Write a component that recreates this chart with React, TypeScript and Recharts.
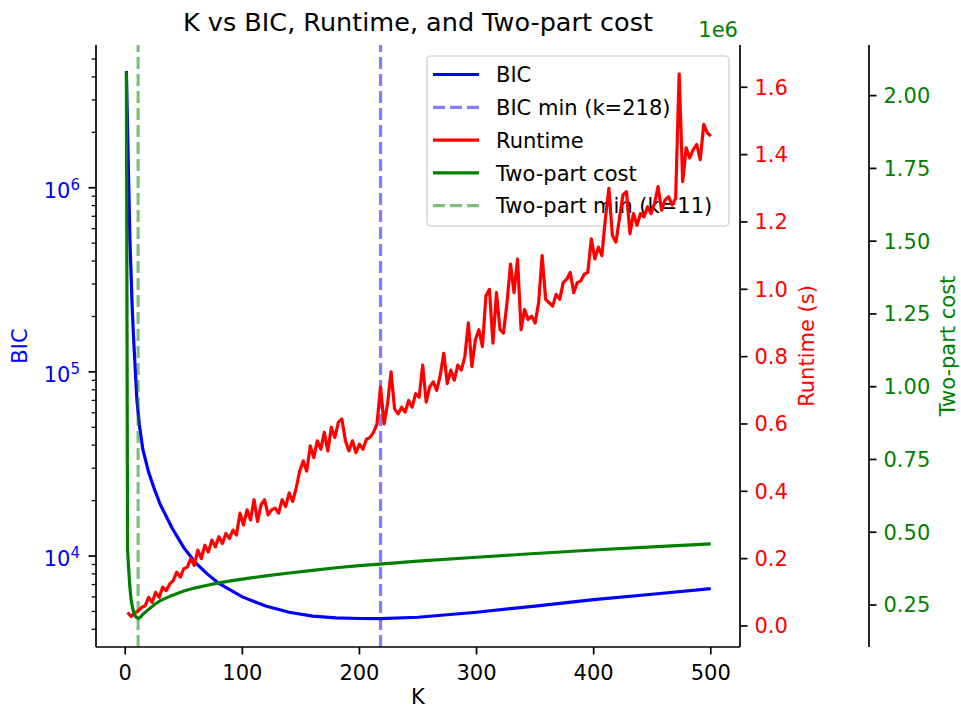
import React from 'react'
import { LineChart, Line, XAxis, YAxis, ReferenceLine } from 'recharts'

const FONT = '"DejaVu Sans", sans-serif'

// BIC (log axis, left)
const bicK = [1, 2, 3, 4, 5, 6, 7, 8, 10, 12, 15, 20, 25, 30, 40, 50, 60, 70, 80, 100, 120, 140, 160, 180, 200, 218, 250, 300, 350, 400, 450, 500]
const bicValues = [
  4.3e6, 2.1e6, 1.05e6, 5.2e5, 3.4e5, 2.2e5, 1.6e5, 1.2e5,
  7.0e4, 5.2e4, 3.8e4, 2.85e4, 2.3e4, 1.9e4,
  1.42e4, 1.11e4, 9.2e3, 8.0e3, 7.1e3,
  6.0e3, 5.35e3, 4.95e3, 4.72e3, 4.62e3, 4.58e3,
  4.57e3, 4.65e3, 4.95e3, 5.35e3, 5.8e3, 6.2e3, 6.65e3,
]

// Runtime in seconds, sampled every 3rd K starting at K=2
const runtimeStart = 2
const runtimeStep = 3
const runtimeSec = [
  0.04, 0.028, 0.038, 0.045, 0.055, 0.06, 0.085, 0.07, 0.1, 0.085,
  0.115, 0.105, 0.125, 0.135, 0.16, 0.145, 0.17, 0.175, 0.2, 0.18,
  0.225, 0.2, 0.24, 0.22, 0.255, 0.235, 0.265, 0.245, 0.275, 0.26,
  0.285, 0.27, 0.335, 0.3, 0.345, 0.315, 0.375, 0.31, 0.36, 0.375,
  0.33, 0.345, 0.35, 0.335, 0.375, 0.355, 0.395, 0.37, 0.41, 0.46,
  0.49, 0.46, 0.535, 0.5, 0.55, 0.525, 0.575, 0.52, 0.59, 0.56,
  0.605, 0.615, 0.55, 0.52, 0.55, 0.515, 0.54, 0.525, 0.555, 0.56,
  0.575, 0.6, 0.71, 0.6, 0.66, 0.755, 0.645, 0.63, 0.65, 0.635,
  0.67, 0.65, 0.69, 0.68, 0.775, 0.665, 0.71, 0.725, 0.7, 0.745,
  0.81, 0.72, 0.76, 0.73, 0.775, 0.76, 0.8, 0.9, 0.77, 0.85,
  0.88, 0.83, 0.98, 1.0, 0.84, 0.99, 0.88, 0.87, 0.96, 1.075,
  0.99, 1.09, 0.88, 0.94, 0.91, 0.92, 0.9, 0.96, 1.1, 0.97,
  0.96, 0.95, 0.985, 0.97, 1.02, 1.03, 1.05, 0.99, 1.02, 1.025,
  1.045, 1.05, 1.15, 1.09, 1.125, 1.1, 1.21, 1.3, 1.16, 1.14,
  1.21, 1.28, 1.29, 1.165, 1.225, 1.19, 1.225, 1.215, 1.245, 1.225,
  1.255, 1.305, 1.235, 1.265, 1.275, 1.25, 1.27, 1.64, 1.32, 1.42,
  1.39, 1.415, 1.43, 1.385, 1.49, 1.465, 1.455,
]

// Two-part cost (outer right axis)
const costK = [1, 2, 3, 4, 5, 6, 7, 8, 9, 10, 11, 13, 15, 20, 25, 30, 40, 50, 60, 70, 80, 90, 100, 120, 140, 160, 180, 200, 220, 250, 300, 350, 400, 450, 500]
const costValues = [
  2.08e6, 4.4e5, 3.7e5, 3.1e5, 2.7e5, 2.45e5, 2.28e5, 2.17e5, 2.1e5, 2.06e5, 2.04e5,
  2.08e5, 2.18e5, 2.35e5, 2.52e5, 2.65e5,
  2.83e5, 2.98e5, 3.09e5, 3.18e5, 3.26e5, 3.33e5, 3.39e5,
  3.5e5, 3.6e5, 3.69e5, 3.78e5, 3.85e5, 3.91e5,
  4.01e5, 4.14e5, 4.27e5, 4.39e5, 4.5e5, 4.6e5,
]

const bicMinK = 218
const costMinK = 11

const kTicks = [0, 100, 200, 300, 400, 500]
const runtimeTicks = [0, 0.2, 0.4, 0.6, 0.8, 1.0, 1.2, 1.4, 1.6]
const costTicks = [250000, 500000, 750000, 1000000, 1250000, 1500000, 1750000, 2000000]
const bicTicks = [
  4000, 5000, 6000, 7000, 8000, 9000,
  1e4, 2e4, 3e4, 4e4, 5e4, 6e4, 7e4, 8e4, 9e4,
  1e5, 2e5, 3e5, 4e5, 5e5, 6e5, 7e5, 8e5, 9e5,
  1e6, 2e6, 3e6, 4e6, 5e6,
]

const legendItems = [
  { label: 'BIC', color: '#0000ff', dashed: false, opacity: 1 },
  { label: 'BIC min (k=218)', color: '#0000ff', dashed: true, opacity: 0.5 },
  { label: 'Runtime', color: '#ff0000', dashed: false, opacity: 1 },
  { label: 'Two-part cost', color: '#008000', dashed: false, opacity: 1 },
  { label: 'Two-part min (k=11)', color: '#008000', dashed: true, opacity: 0.5 },
]

const bicData = bicK.map((k, i) => ({ k, v: bicValues[i] }))
const runtimeData = runtimeSec.map((v, i) => ({ k: runtimeStart + runtimeStep * i, v }))
const costData = costK.map((k, i) => ({ k, v: costValues[i] }))

const LW = 3.2
const SPINE = { stroke: '#000', strokeWidth: 1.7 }

function LogTick(props: any) {
  const { x, y, payload } = props
  const e = Math.log10(payload.value)
  const major = Math.abs(e - Math.round(e)) < 1e-6
  return (
    <g>
      <line x1={x} x2={x - (major ? 7.5 : 4.3)} y1={y} y2={y} stroke="#000" strokeWidth={major ? 1.7 : 1.3} />
      {major && (
        <text x={x - 16} y={y + 10} textAnchor="end" fill="#0000ff" fontSize={21} fontFamily={FONT}>
          10<tspan dy={-8} fontSize={15}>{Math.round(e)}</tspan>
        </text>
      )}
    </g>
  )
}

function SideTitle(props: any) {
  const { viewBox, text, dx, color } = props
  const cx = viewBox.x + dx
  const cy = viewBox.y + viewBox.height / 2
  return (
    <text x={cx} y={cy} transform={`rotate(-90 ${cx} ${cy})`} textAnchor="middle" dominantBaseline="central"
      fill={color} fontSize={21} fontFamily={FONT}>
      {text}
    </text>
  )
}

function BottomTitle(props: any) {
  const { viewBox } = props
  return (
    <text x={viewBox.x + viewBox.width / 2} y={viewBox.y + 57} textAnchor="middle" fill="#000" fontSize={21} fontFamily={FONT}>
      K
    </text>
  )
}

export default function App() {
  return (
    <div style={{ position: 'absolute', left: 0, top: 0, width: 961, height: 710, background: '#fff', fontFamily: FONT }}>
      {/* legend sits under the chart, like the twin-axis lines drawn over it */}
      <svg width={961} height={710} style={{ position: 'absolute', left: 0, top: 0 }}>
        <rect x={427} y={56} width={302} height={170} rx={4} fill="#fff" stroke="#d6d6d6" strokeWidth={1.5} />
        {legendItems.map((it, i) => {
          const cy = 74.5 + i * 32.8
          return (
            <g key={it.label}>
              <line x1={433} x2={479} y1={cy} y2={cy} stroke={it.color} strokeOpacity={it.opacity} strokeWidth={LW}
                strokeDasharray={it.dashed ? '12 5' : undefined} />
              <text x={496} y={cy + 7.6} fill="#000" fontSize={21} fontFamily={FONT}>{it.label}</text>
            </g>
          )
        })}
      </svg>
      <LineChart width={961} height={710} margin={{ top: 45, right: 0, bottom: 0, left: 0 }}>
        <XAxis xAxisId="k" type="number" dataKey="k" domain={[-24.95, 524.95]} allowDataOverflow ticks={kTicks}
          interval={0} height={63} tickSize={7.5} tickMargin={11} axisLine={SPINE} tickLine={SPINE}
          tick={{ fill: '#000', fontSize: 21, fontFamily: FONT }} label={<BottomTitle />} />
        <XAxis xAxisId="top" orientation="top" type="number" domain={[-24.95, 524.95]} allowDataOverflow height={0}
          tick={false} tickLine={false} axisLine={SPINE} />
        <YAxis yAxisId="bic" orientation="left" type="number" scale="log" domain={[3206, 5.96e6]} allowDataOverflow
          ticks={bicTicks} interval={0} width={96} tickSize={0} tickMargin={0} tickLine={false} axisLine={SPINE}
          tick={<LogTick />} label={<SideTitle text="BIC" dx={20} color="#0000ff" />} />
        <YAxis yAxisId="b_cost" orientation="right" type="number" domain={[1.057e5, 2.174e6]} allowDataOverflow
          ticks={costTicks} interval={0} width={92} tickSize={7.5} tickMargin={7} axisLine={SPINE} tickLine={SPINE}
          tickFormatter={(v: number) => (v / 1e6).toFixed(2)} tick={{ fill: '#008000', fontSize: 21, fontFamily: FONT }}
          label={<SideTitle text="Two-part cost" dx={79} color="#008000" />} />
        <YAxis yAxisId="a_rt" orientation="right" type="number" domain={[-0.0624, 1.7256]} allowDataOverflow
          ticks={runtimeTicks} interval={0} width={129} tickSize={7.5} tickMargin={7} axisLine={SPINE} tickLine={SPINE}
          tickFormatter={(v: number) => v.toFixed(1)} tick={{ fill: '#ff0000', fontSize: 21, fontFamily: FONT }}
          label={<SideTitle text="Runtime (s)" dx={67} color="#ff0000" />} />

        <Line xAxisId="k" yAxisId="bic" data={bicData} dataKey="v" type="linear" stroke="#0000ff" strokeWidth={LW}
          dot={false} isAnimationActive={false} />
        <ReferenceLine xAxisId="k" yAxisId="bic" x={bicMinK} stroke="#0000ff" strokeOpacity={0.5} strokeWidth={LW}
          strokeDasharray="12 5" />
        <ReferenceLine xAxisId="k" yAxisId="bic" x={costMinK} stroke="#008000" strokeOpacity={0.5} strokeWidth={LW}
          strokeDasharray="12 5" />
        <Line xAxisId="k" yAxisId="a_rt" data={runtimeData} dataKey="v" type="linear" stroke="#ff0000" strokeWidth={LW}
          strokeLinejoin="round" dot={false} isAnimationActive={false} />
        <Line xAxisId="k" yAxisId="b_cost" data={costData} dataKey="v" type="linear" stroke="#008000" strokeWidth={LW}
          dot={false} isAnimationActive={false} />
      </LineChart>
      <svg width={961} height={710} style={{ position: 'absolute', left: 0, top: 0, pointerEvents: 'none' }}>
        <text x={418} y={31} textAnchor="middle" fill="#000" fontSize={25.5} fontFamily={FONT}>
          K vs BIC, Runtime, and Two-part cost
        </text>
        <text x={738} y={37} textAnchor="end" fill="#008000" fontSize={21} fontFamily={FONT}>1e6</text>
      </svg>
    </div>
  )
}
